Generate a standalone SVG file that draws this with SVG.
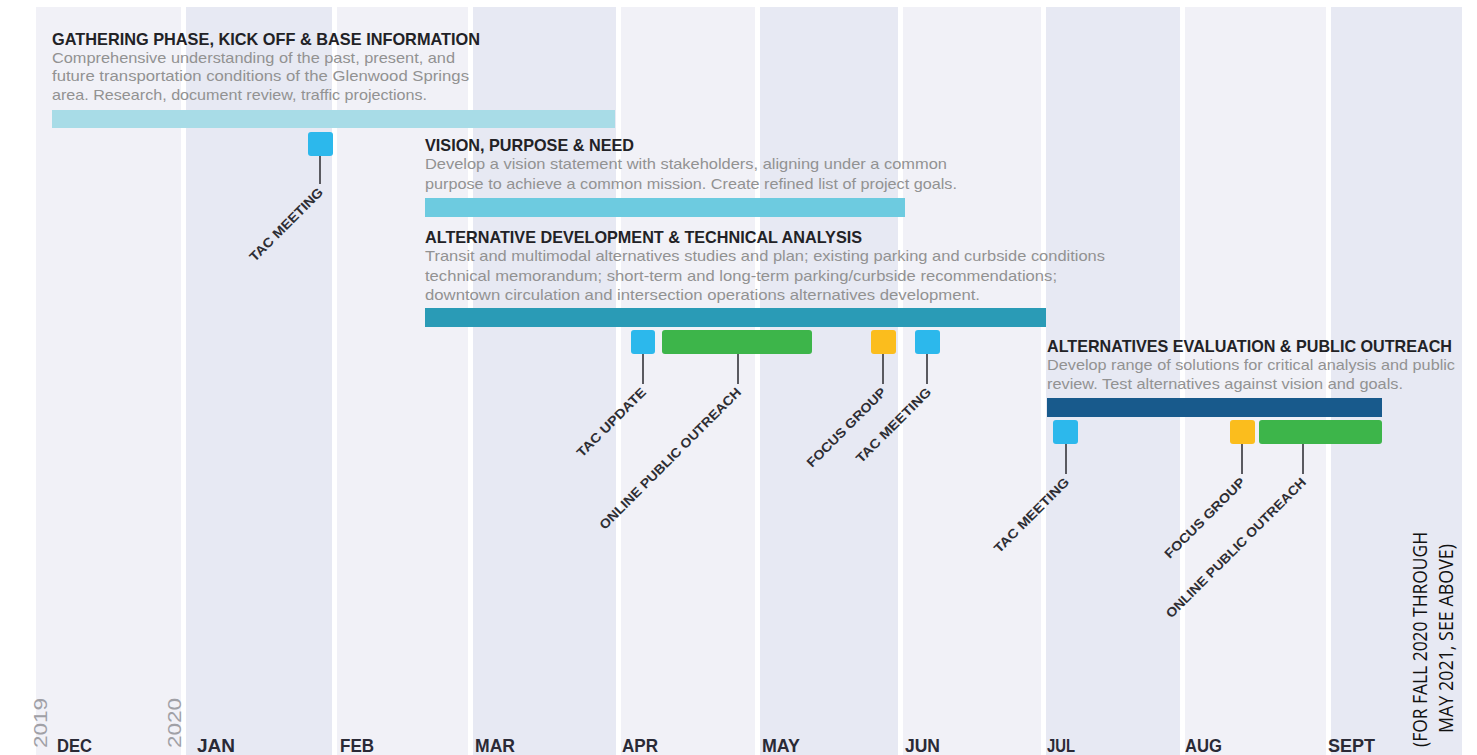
<svg xmlns="http://www.w3.org/2000/svg" width="1477" height="755" viewBox="0 0 1477 755">
<style>
.colL{fill:#f1f1f7}
.colD{fill:#e7e9f3}
.title{font-family:"Liberation Sans",Arial,sans-serif;font-weight:bold;font-size:17px;fill:#222226}
.desc{font-family:"Liberation Sans",Arial,sans-serif;font-size:15px;fill:#929292}
.lbl{font-family:"Liberation Sans",Arial,sans-serif;font-weight:bold;font-size:13px;fill:#2e2e33}
.month{font-family:"Liberation Sans",Arial,sans-serif;font-weight:bold;font-size:19px;fill:#2a2a36}
.year{font-family:"Liberation Sans",Arial,sans-serif;font-size:18px;fill:#a0a0a6}
.note{font-family:"Open Sans","Liberation Sans",sans-serif;font-size:20px;fill:#111}
.blue{fill:#2cb8ec}
.green{fill:#3db54a}
.yellow{fill:#fbbd1d}
.conn{stroke:#5a5a60;stroke-width:2;fill:none}
</style>

<g id="background">
<rect x="36" y="7" width="145" height="748" class="colL"/>
<rect x="186" y="7" width="146" height="748" class="colD"/>
<rect x="337" y="7" width="131" height="748" class="colL"/>
<rect x="473" y="7" width="143" height="748" class="colD"/>
<rect x="621" y="7" width="134" height="748" class="colL"/>
<rect x="760" y="7" width="138" height="748" class="colD"/>
<rect x="903" y="7" width="138" height="748" class="colL"/>
<rect x="1046" y="7" width="134" height="748" class="colD"/>
<rect x="1185" y="7" width="141" height="748" class="colL"/>
<rect x="1331" y="7" width="131" height="748" class="colD"/>
</g>

<g id="months">
<text class="month" x="57" y="752" textLength="35" lengthAdjust="spacingAndGlyphs">DEC</text>
<text class="month" x="197" y="752" textLength="38" lengthAdjust="spacingAndGlyphs">JAN</text>
<text class="month" x="340" y="752" textLength="34" lengthAdjust="spacingAndGlyphs">FEB</text>
<text class="month" x="475" y="752" textLength="40" lengthAdjust="spacingAndGlyphs">MAR</text>
<text class="month" x="622" y="752" textLength="36" lengthAdjust="spacingAndGlyphs">APR</text>
<text class="month" x="762" y="752" textLength="38" lengthAdjust="spacingAndGlyphs">MAY</text>
<text class="month" x="905" y="752" textLength="35" lengthAdjust="spacingAndGlyphs">JUN</text>
<text class="month" x="1047" y="752" textLength="28" lengthAdjust="spacingAndGlyphs">JUL</text>
<text class="month" x="1185" y="752" textLength="37" lengthAdjust="spacingAndGlyphs">AUG</text>
<text class="month" x="1328" y="752" textLength="47" lengthAdjust="spacingAndGlyphs">SEPT</text>
<text class="year" transform="translate(47,748) rotate(-90)" textLength="50" lengthAdjust="spacingAndGlyphs">2019</text>
<text class="year" transform="translate(181,748) rotate(-90)" textLength="50" lengthAdjust="spacingAndGlyphs">2020</text>
</g>

<g id="phase-gathering">
<text class="title" x="52" y="45" textLength="428" lengthAdjust="spacingAndGlyphs">GATHERING PHASE, KICK OFF &amp; BASE INFORMATION</text>
<text class="desc" x="52" y="62.5" textLength="403" lengthAdjust="spacingAndGlyphs">Comprehensive understanding of the past, present, and</text>
<text class="desc" x="52" y="81" textLength="417" lengthAdjust="spacingAndGlyphs">future transportation conditions of the Glenwood Springs</text>
<text class="desc" x="52" y="99.5" textLength="375" lengthAdjust="spacingAndGlyphs">area. Research, document review, traffic projections.</text>
<rect x="52" y="110" width="563" height="18" fill="#a8dce7"/>
</g>

<g id="phase-vision">
<text class="title" x="425" y="150.5" textLength="209" lengthAdjust="spacingAndGlyphs">VISION, PURPOSE &amp; NEED</text>
<text class="desc" x="425" y="169" textLength="522" lengthAdjust="spacingAndGlyphs">Develop a vision statement with stakeholders, aligning under a common</text>
<text class="desc" x="425" y="189" textLength="532" lengthAdjust="spacingAndGlyphs">purpose to achieve a common mission. Create refined list of project goals.</text>
<rect x="425" y="198" width="480" height="19" fill="#6dcbe0"/>
</g>

<g id="phase-alternative">
<text class="title" x="425" y="242.5" textLength="437" lengthAdjust="spacingAndGlyphs">ALTERNATIVE DEVELOPMENT &amp; TECHNICAL ANALYSIS</text>
<text class="desc" x="425" y="261" textLength="680" lengthAdjust="spacingAndGlyphs">Transit and multimodal alternatives studies and plan; existing parking and curbside conditions</text>
<text class="desc" x="425" y="280.5" textLength="632" lengthAdjust="spacingAndGlyphs">technical memorandum; short-term and long-term parking/curbside recommendations;</text>
<text class="desc" x="425" y="300" textLength="555" lengthAdjust="spacingAndGlyphs">downtown circulation and intersection operations alternatives development.</text>
<rect x="425" y="308" width="621" height="19" fill="#2a9bb6"/>
</g>

<g id="phase-evaluation">
<text class="title" x="1047" y="351.5" textLength="405" lengthAdjust="spacingAndGlyphs">ALTERNATIVES EVALUATION &amp; PUBLIC OUTREACH</text>
<text class="desc" x="1047" y="370" textLength="408" lengthAdjust="spacingAndGlyphs">Develop range of solutions for critical analysis and public</text>
<text class="desc" x="1047" y="389" textLength="356" lengthAdjust="spacingAndGlyphs">review. Test alternatives against vision and goals.</text>
<rect x="1047" y="398" width="335" height="19" fill="#185a8c"/>
</g>

<g id="connectors">
<line class="conn" x1="320" y1="156" x2="320" y2="184"/>
<line class="conn" x1="643" y1="354" x2="643" y2="384"/>
<line class="conn" x1="738" y1="354" x2="738" y2="384"/>
<line class="conn" x1="883" y1="354" x2="883" y2="384"/>
<line class="conn" x1="927" y1="354" x2="927" y2="384"/>
<line class="conn" x1="1066" y1="444" x2="1066" y2="474"/>
<line class="conn" x1="1242" y1="444" x2="1242" y2="474"/>
<line class="conn" x1="1303" y1="444" x2="1303" y2="474"/>
</g>

<g id="tac-meeting-1">
<rect x="308" y="132" width="25" height="24" rx="3" class="blue"/>
<text class="lbl" text-anchor="end" transform="translate(324,193) rotate(-45)" textLength="98" lengthAdjust="spacingAndGlyphs">TAC MEETING</text>
</g>
<g id="tac-update">
<rect x="631" y="330" width="24" height="24" rx="3" class="blue"/>
<text class="lbl" text-anchor="end" transform="translate(647,393) rotate(-45)" textLength="92" lengthAdjust="spacingAndGlyphs">TAC UPDATE</text>
</g>
<g id="online-outreach-1">
<rect x="662" y="330" width="150" height="24" rx="3" class="green"/>
<text class="lbl" text-anchor="end" transform="translate(742,393) rotate(-45)" textLength="194" lengthAdjust="spacingAndGlyphs">ONLINE PUBLIC OUTREACH</text>
</g>
<g id="focus-group-1">
<rect x="871" y="330" width="25" height="24" rx="3" class="yellow"/>
<text class="lbl" text-anchor="end" transform="translate(887,393) rotate(-45)" textLength="106" lengthAdjust="spacingAndGlyphs">FOCUS GROUP</text>
</g>
<g id="tac-meeting-2">
<rect x="915" y="330" width="25" height="24" rx="3" class="blue"/>
<text class="lbl" text-anchor="end" transform="translate(932,393) rotate(-45)" textLength="100" lengthAdjust="spacingAndGlyphs">TAC MEETING</text>
</g>
<g id="tac-meeting-3">
<rect x="1053" y="420" width="25" height="24" rx="3" class="blue"/>
<text class="lbl" text-anchor="end" transform="translate(1070,483) rotate(-45)" textLength="100" lengthAdjust="spacingAndGlyphs">TAC MEETING</text>
</g>
<g id="focus-group-2">
<rect x="1230" y="420" width="25" height="24" rx="3" class="yellow"/>
<text class="lbl" text-anchor="end" transform="translate(1246,483) rotate(-45)" textLength="108" lengthAdjust="spacingAndGlyphs">FOCUS GROUP</text>
</g>
<g id="online-outreach-2">
<rect x="1259" y="420" width="123" height="24" rx="3" class="green"/>
<text class="lbl" text-anchor="end" transform="translate(1307,483) rotate(-45)" textLength="192" lengthAdjust="spacingAndGlyphs">ONLINE PUBLIC OUTREACH</text>
</g>

<g id="note">
<text class="note" transform="translate(1427,747) rotate(-90)" textLength="215" lengthAdjust="spacingAndGlyphs">(FOR FALL 2020 THROUGH</text>
<text class="note" transform="translate(1453,733) rotate(-90)" textLength="189" lengthAdjust="spacingAndGlyphs">MAY 2021, SEE ABOVE)</text>
</g>
</svg>
